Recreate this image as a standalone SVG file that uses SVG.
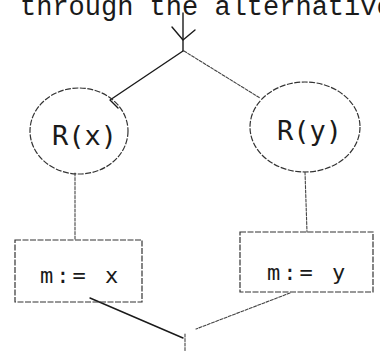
<svg xmlns="http://www.w3.org/2000/svg" width="380" height="351" viewBox="0 0 380 351">
<style>
.ln{fill:none;stroke:#1a1a1a;stroke-width:1.4;stroke-linecap:round;stroke-linejoin:round}
.lt{fill:none;stroke:#444;stroke-width:1.1;stroke-dasharray:3 1.5;stroke-linecap:round}
.nd{fill:none;stroke:#333;stroke-width:1.2;stroke-dasharray:6 1.5}
.tx{font-family:"DejaVu Sans Mono","Liberation Mono",monospace;fill:#1a1a1a}
.bx{font-family:"DejaVu Sans Mono","Liberation Mono",monospace;fill:#1a1a1a;font-size:22px;letter-spacing:3px}
.ty{font-family:"Liberation Mono","Courier New",monospace;fill:#1a1a1a}
</style>
<rect width="380" height="351" fill="#fff"/>
<text class="ty" x="20" y="15" font-size="27">through the alternative</text>
<g id="connectors">
<path class="ln" d="M183,13 L183,51"/>
<path class="ln" d="M172,27 L183,40 L195,30"/>
<path class="ln" d="M183,51 L110,100 L118,108"/>
<path class="lt" d="M184,51 L260,98"/>
<path class="lt" d="M75,173 L75,240"/>
<path class="lt" d="M305,172 L307,232"/>
<path class="ln" d="M90,298 L183,338"/>
<path class="lt" d="M290,293 L196,329"/>
<path class="lt" d="M185,334 L185,351"/>
</g>
<g id="rx">
<ellipse class="nd" cx="79" cy="131" rx="49" ry="43"/>
<text class="tx" x="52" y="145" font-size="27">R(x)</text>
</g>
<g id="ry">
<ellipse class="nd" cx="305" cy="127" rx="55" ry="45"/>
<text class="tx" x="277" y="140" font-size="27">R(y)</text>
</g>
<g id="mx">
<rect class="nd" x="15" y="240" width="127" height="62"/>
<text class="bx" x="40" y="283">m:= x</text>
</g>
<g id="my">
<rect class="nd" x="240" y="232" width="133" height="60"/>
<text class="bx" x="267" y="280">m:= y</text>
</g>
</svg>
